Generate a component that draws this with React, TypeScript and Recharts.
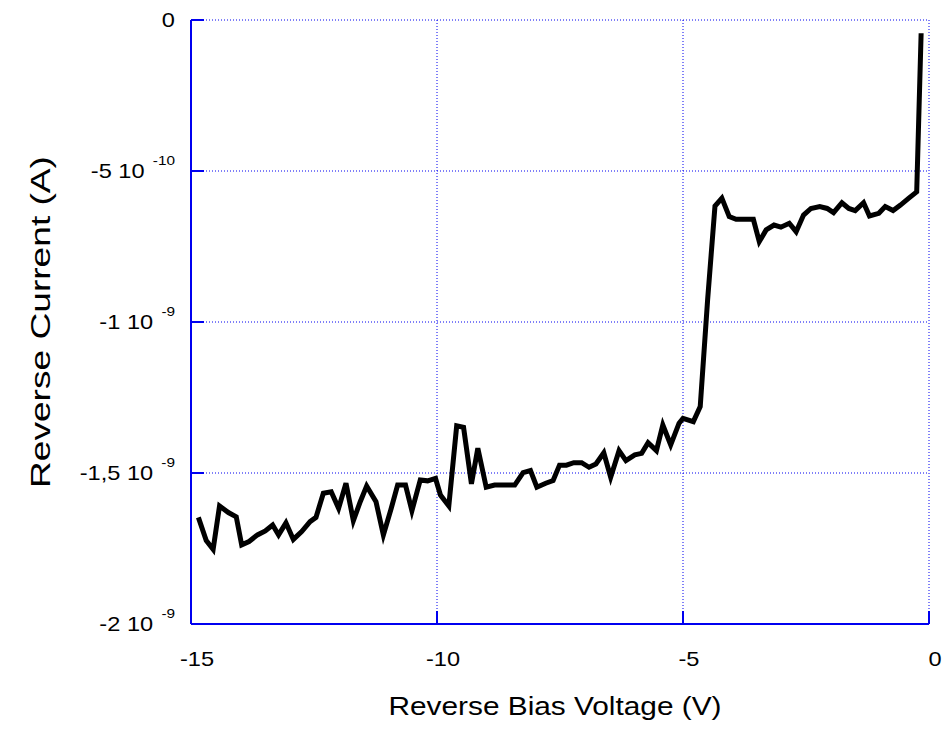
import React from 'react';
import { LineChart, Line, XAxis, YAxis, CartesianGrid } from 'recharts';

// bias voltage (V)
const voltage = [
  -14.85, -14.69, -14.55, -14.42, -14.24, -14.08, -13.97, -13.82, -13.65, -13.49,
  -13.34, -13.22, -13.07, -12.92, -12.75, -12.58, -12.46, -12.31, -12.15, -12.0,
  -11.85, -11.7, -11.56, -11.43, -11.24, -11.09, -10.93, -10.8, -10.64, -10.51,
  -10.34, -10.19, -10.03, -9.93, -9.76, -9.6, -9.46, -9.3, -9.17, -9.0,
  -8.83, -8.66, -8.54, -8.42, -8.25, -8.1, -7.97, -7.79, -7.64, -7.51,
  -7.37, -7.22, -7.06, -6.91, -6.77, -6.61, -6.47, -6.3, -6.16, -5.98,
  -5.84, -5.71, -5.54, -5.41, -5.25, -5.08, -5.0, -4.79, -4.65, -4.5,
  -4.35, -4.21, -4.06, -3.92, -3.74, -3.57, -3.45, -3.31, -3.15, -3.01,
  -2.84, -2.7, -2.55, -2.4, -2.22, -2.07, -1.94, -1.77, -1.63, -1.5,
  -1.33, -1.21, -1.02, -0.89, -0.73, -0.58, -0.41, -0.25, -0.16,
];

// reverse current, in units of 1e-10 A
const current = [
  -16.47, -17.24, -17.53, -16.09, -16.31, -16.45, -17.38, -17.27, -17.05, -16.92,
  -16.72, -17.05, -16.65, -17.2, -16.94, -16.61, -16.47, -15.67, -15.62, -16.17,
  -15.34, -16.58, -15.95, -15.43, -15.95, -17.05, -16.17, -15.4, -15.4, -16.25,
  -15.23, -15.26, -15.18, -15.73, -16.09, -13.44, -13.49, -15.36, -14.18, -15.47,
  -15.4, -15.4, -15.4, -15.4, -14.99, -14.92, -15.47, -15.34, -15.25, -14.74,
  -14.74, -14.66, -14.66, -14.81, -14.7, -14.33, -15.14, -14.26, -14.59, -14.4,
  -14.35, -14.0, -14.26, -13.41, -14.07, -13.35, -13.19, -13.3, -12.8, -9.27,
  -6.16, -5.9, -6.51, -6.6, -6.6, -6.6, -7.34, -6.95, -6.79, -6.86,
  -6.73, -7.01, -6.46, -6.24, -6.18, -6.24, -6.38, -6.05, -6.24, -6.31,
  -6.05, -6.49, -6.4, -6.18, -6.31, -6.13, -5.9, -5.69, -0.44,
];

const xTicks = [-15, -10, -5, 0];
const yTicks = [-20, -15, -10, -5, 0];
// y tick text: mantissa part and exponent
const yTickLabels: Record<number, [string, string]> = {
  0: ['0', ''],
  [-5]: ['-5 10', '-10'],
  [-10]: ['-1 10', '-9'],
  [-15]: ['-1,5 10', '-9'],
  [-20]: ['-2 10', '-9'],
};

const data = voltage.map((v, i) => ({ v, i: current[i] }));

const BLUE = '#0000f0';
const FONT = '"Liberation Sans", Arial, sans-serif';
const TICK_LEN = 13;

function BottomTick({ x, y, payload }: any) {
  return (
    <g>
      <line x1={x} x2={x} y1={y} y2={y - TICK_LEN} stroke={BLUE} strokeWidth={2} />
      <text
        transform={`translate(${x + 6},${y + 42}) scale(1.18,1)`}
        textAnchor="middle"
        fontSize={20}
        fontFamily={FONT}
        fill="#000"
      >
        {payload.value}
      </text>
    </g>
  );
}

function TopTick({ x, y }: any) {
  return <line x1={x} x2={x} y1={y} y2={y + TICK_LEN} stroke={BLUE} strokeWidth={2} />;
}

function LeftTick({ x, y, payload }: any) {
  const [main, exp] = yTickLabels[payload.value] || [String(payload.value), ''];
  return (
    <g>
      <line x1={x} x2={x + TICK_LEN} y1={y} y2={y} stroke={BLUE} strokeWidth={2} />
      <text
        transform={`translate(${x - 16},${y + 7}) scale(1.18,1)`}
        textAnchor="end"
        fontSize={20}
        fontFamily={FONT}
        fill="#000"
      >
        {main}
        {exp && (
          <tspan dx={7} dy={-13} fontSize={13}>
            {exp}
          </tspan>
        )}
      </text>
    </g>
  );
}

function RightTick({ x, y }: any) {
  return <line x1={x} x2={x - TICK_LEN} y1={y} y2={y} stroke={BLUE} strokeWidth={2} />;
}

function XTitle({ viewBox }: any) {
  const cx = viewBox.x + viewBox.width / 2;
  return (
    <text
      x={cx - 5}
      y={viewBox.y + 91}
      textAnchor="middle"
      fontSize={25}
      fontFamily={FONT}
      textLength={333}
      lengthAdjust="spacingAndGlyphs"
      fill="#000"
    >
      Reverse Bias Voltage (V)
    </text>
  );
}

function YTitle({ viewBox }: any) {
  const cy = viewBox.y + viewBox.height / 2;
  return (
    <text
      transform={`translate(50,${cy}) rotate(-90)`}
      textAnchor="middle"
      fontSize={27}
      fontFamily={FONT}
      textLength={332}
      lengthAdjust="spacingAndGlyphs"
      fill="#000"
    >
      Reverse Current (A)
    </text>
  );
}

export default function App() {
  return (
    <div style={{ position: 'absolute', left: 0, top: 0, background: '#fff' }}>
      <LineChart width={943} height={731} data={data} margin={{ top: 20, right: 14, bottom: 0, left: 0 }}>
        <CartesianGrid stroke={BLUE} strokeDasharray="1 2" strokeWidth={1} xAxisId="b" yAxisId="l" />
        <XAxis
          xAxisId="b"
          dataKey="v"
          type="number"
          domain={[-15, 0]}
          ticks={xTicks}
          height={107}
          axisLine={{ stroke: BLUE, strokeWidth: 2 }}
          tickLine={false}
          tickSize={0}
          tickMargin={0}
          tick={<BottomTick />}
          interval={0}
          label={<XTitle />}
        />
        <XAxis
          xAxisId="t"
          orientation="top"
          type="number"
          domain={[-15, 0]}
          ticks={xTicks}
          height={0}
          axisLine={{ stroke: BLUE, strokeWidth: 2 }}
          tickLine={false}
          tickSize={0}
          tickMargin={0}
          tick={<TopTick />}
          interval={0}
        />
        <YAxis
          yAxisId="l"
          type="number"
          domain={[-20, 0]}
          ticks={yTicks}
          width={191}
          axisLine={{ stroke: BLUE, strokeWidth: 2 }}
          tickLine={false}
          tickSize={0}
          tickMargin={0}
          tick={<LeftTick />}
          interval={0}
          label={<YTitle />}
        />
        <YAxis
          yAxisId="r"
          orientation="right"
          type="number"
          domain={[-20, 0]}
          ticks={yTicks}
          width={0}
          axisLine={{ stroke: BLUE, strokeWidth: 2 }}
          tickLine={false}
          tickSize={0}
          tickMargin={0}
          tick={<RightTick />}
          interval={0}
        />
        <Line
          xAxisId="b"
          yAxisId="l"
          type="linear"
          dataKey="i"
          stroke="#000"
          strokeWidth={5}
          dot={false}
          isAnimationActive={false}
        />
      </LineChart>
    </div>
  );
}
